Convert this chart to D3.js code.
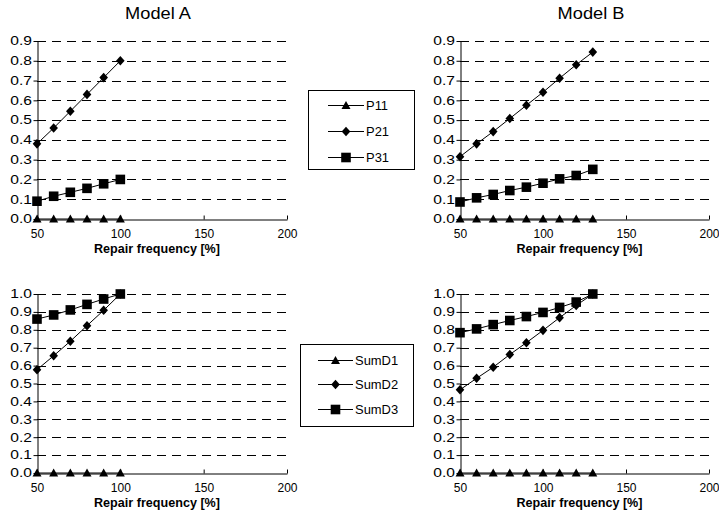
<!DOCTYPE html>
<html>
<head>
<meta charset="utf-8">
<script src="https://cdn.jsdelivr.net/npm/d3@7"></script>
<style>
  html, body { margin: 0; padding: 0; background: #fff; }
  svg { display: block; font-family: "Liberation Sans", Arial, sans-serif; }
</style>
</head>
<body>
<svg id="chart" width="719" height="522"></svg>
<script>
// Repair frequency levels (%) for each model
const freqA = [50, 60, 70, 80, 90, 100];
const freqB = [50, 60, 70, 80, 90, 100, 110, 120, 130];

// Probabilities P11, P21, P31
const p11A = [0, 0, 0, 0, 0, 0];
const p21A = [0.38, 0.46, 0.545, 0.63, 0.715, 0.80];
const p31A = [0.09, 0.115, 0.135, 0.155, 0.178, 0.20];
const p11B = [0, 0, 0, 0, 0, 0, 0, 0, 0];
const p21B = [0.315, 0.38, 0.442, 0.508, 0.575, 0.641, 0.712, 0.78, 0.844];
const p31B = [0.086, 0.107, 0.124, 0.144, 0.161, 0.181, 0.203, 0.22, 0.251];

// Cumulative sums SumD1, SumD2, SumD3
const sumD1A = [0, 0, 0, 0, 0, 0];
const sumD2A = [0.577, 0.655, 0.736, 0.823, 0.909, 1.0];
const sumD3A = [0.86, 0.883, 0.911, 0.942, 0.972, 1.0];
const sumD1B = [0, 0, 0, 0, 0, 0, 0, 0, 0];
const sumD2B = [0.465, 0.529, 0.591, 0.662, 0.728, 0.797, 0.868, 0.936, 1.0];
const sumD3B = [0.784, 0.805, 0.829, 0.852, 0.874, 0.897, 0.925, 0.955, 1.0];

// Axis ticks and labels
const xTicks = [50, 100, 150, 200];
const yTicksTop = [0, 0.1, 0.2, 0.3, 0.4, 0.5, 0.6, 0.7, 0.8, 0.9];
const yTicksBottom = [0, 0.1, 0.2, 0.3, 0.4, 0.5, 0.6, 0.7, 0.8, 0.9, 1.0];
const titles = ["Model A", "Model B"];
const xTitle = "Repair frequency [%]";
const legendTop = ["P11", "P21", "P31"];
const legendBottom = ["SumD1", "SumD2", "SumD3"];
const shapes = ["triangle", "diamond", "square"];

const FONT = "Liberation Sans, Arial, sans-serif";
const svg = d3.select("#chart");

// widen a text horizontally around its anchor point
function stretch(sel, s) {
  sel.each(function () {
    const t = d3.select(this);
    const x = +t.attr("x") || 0;
    t.attr("x", x / s).attr("transform", `scale(${s},1)`);
  });
}

const panels = [
  { x: [37, 287], y: [219, 41], yMax: 0.9, yTicks: yTicksTop, freq: freqA, series: [p11A, p21A, p31A] },
  { x: [460, 709], y: [219, 41], yMax: 0.9, yTicks: yTicksTop, freq: freqB, series: [p11B, p21B, p31B] },
  { x: [37, 287], y: [473, 294], yMax: 1.0, yTicks: yTicksBottom, freq: freqA, series: [sumD1A, sumD2A, sumD3A] },
  { x: [460, 709], y: [473, 294], yMax: 1.0, yTicks: yTicksBottom, freq: freqB, series: [sumD1B, sumD2B, sumD3B] }
];

function markerPath(shape) {
  if (shape === "triangle") return "M0,-4.5L4.5,3.5L-4.5,3.5Z";
  if (shape === "diamond") return "M0,-4.8L4.3,0L0,4.8L-4.3,0Z";
  return "M-4.8,-4.8H4.8V4.8H-4.8Z";
}

panels.forEach(p => {
  const xs = d3.scaleLinear().domain([50, 200]).range(p.x);
  const ys = d3.scaleLinear().domain([0, p.yMax]).range(p.y);
  const g = svg.append("g");

  // dashed gridlines
  g.selectAll("line.grid").data(p.yTicks.filter(t => t > 0)).join("line")
    .attr("x1", p.x[0]).attr("x2", p.x[1])
    .attr("y1", d => Math.round(ys(d)) + 0.5).attr("y2", d => Math.round(ys(d)) + 0.5)
    .attr("stroke", "#000").attr("stroke-width", 1)
    .attr("stroke-dasharray", "9,6");

  // y axis
  const yAxis = d3.axisLeft(ys).tickValues(p.yTicks).tickFormat(d3.format(".1f"))
    .tickSizeInner(4).tickSizeOuter(0).tickPadding(1.5);
  const ya = g.append("g").attr("transform", `translate(${p.x[0] + 0.5},0)`).call(yAxis);
  ya.select(".domain").attr("stroke", "#000");
  ya.selectAll("text").attr("font-size", 12).attr("fill", "#000").attr("font-family", FONT);
  stretch(ya.selectAll("text"), 1.3);

  // x axis, ticks pointing into the plot
  const xAxis = d3.axisBottom(xs).tickValues(xTicks).tickSizeInner(-4).tickSizeOuter(0).tickPadding(10);
  const xa = g.append("g").attr("transform", `translate(0,${Math.round(p.y[0]) + 0.5})`).call(xAxis);
  xa.select(".domain").attr("stroke", "#000");
  xa.selectAll("text").attr("font-size", 12).attr("fill", "#000").attr("font-family", FONT);

  // x axis title
  g.append("text").attr("transform", `translate(${(p.x[0] + p.x[1]) / 2 - 5},${p.y[0] + 34}) scale(1.05,1)`)
    .attr("text-anchor", "middle").attr("font-size", 12).attr("font-weight", "bold")
    .text(xTitle);

  // series lines and markers
  const line = d3.line().x((d, i) => xs(p.freq[i])).y(d => ys(d));
  p.series.forEach((vals, si) => {
    g.append("path").datum(vals).attr("d", line)
      .attr("fill", "none").attr("stroke", "#000").attr("stroke-width", 1);
    g.selectAll(null).data(vals).join("path")
      .attr("transform", (d, i) => `translate(${xs(p.freq[i])},${ys(d)})`)
      .attr("d", markerPath(shapes[si]))
      .attr("fill", "#000");
  });
});

// panel titles
svg.append("text").attr("transform", "translate(158,19) scale(1.14,1)").attr("text-anchor", "middle")
  .attr("font-size", 16).text(titles[0]);
svg.append("text").attr("transform", "translate(591,19) scale(1.14,1)").attr("text-anchor", "middle")
  .attr("font-size", 16).text(titles[1]);

// legends
function legend(box, labels, rowY, lineX, textX) {
  const g = svg.append("g");
  g.append("rect").attr("x", box[0] + 0.5).attr("y", box[1] + 0.5)
    .attr("width", box[2]).attr("height", box[3])
    .attr("fill", "#fff").attr("stroke", "#000").attr("stroke-width", 1);
  labels.forEach((lab, i) => {
    const y = rowY[i];
    g.append("line").attr("x1", lineX[0]).attr("x2", lineX[1])
      .attr("y1", y + 0.5).attr("y2", y + 0.5).attr("stroke", "#000");
    g.append("path").attr("transform", `translate(${(lineX[0] + lineX[1]) / 2},${y + 0.5})`)
      .attr("d", markerPath(shapes[i])).attr("fill", "#000");
    g.append("text").attr("transform", `translate(${textX},${y + 4.5}) scale(1.08,1)`)
      .attr("font-size", 12).text(lab);
  });
}
legend([308, 90, 106, 79], legendTop, [105, 131, 157], [328, 364], 366);
legend([300, 344, 113, 82], legendBottom, [360, 384, 409], [318, 353], 355);
</script>
</body>
</html>
